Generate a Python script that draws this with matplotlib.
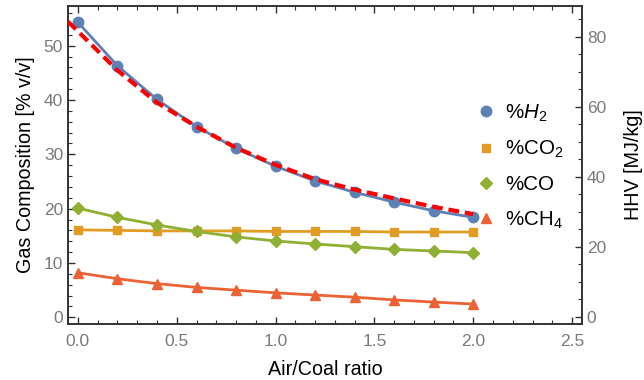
import numpy as np
import matplotlib
matplotlib.use("Agg")
import matplotlib.pyplot as plt
from matplotlib.ticker import MultipleLocator

plt.rcParams["font.family"] = ["Liberation Sans", "DejaVu Sans"]
plt.rcParams["mathtext.fontset"] = "custom"
plt.rcParams["mathtext.it"] = "Liberation Sans:italic"
plt.rcParams["mathtext.rm"] = "Liberation Sans"

# ── data ────────────────────────────────────────────────────────────────
ratio = [0.0, 0.2, 0.4, 0.6, 0.8, 1.0, 1.2, 1.4, 1.6, 1.8, 2.0]
h2  = [54.3, 46.3, 40.1, 35.1, 31.1, 27.8, 25.1, 23.0, 21.2, 19.6, 18.4]
co2 = [16.1, 16.0, 15.9, 15.9, 15.9, 15.8, 15.8, 15.8, 15.7, 15.7, 15.7]
co  = [20.1, 18.4, 17.0, 15.8, 14.8, 14.05, 13.5, 13.0, 12.5, 12.2, 11.9]
ch4 = [8.2, 7.1, 6.2, 5.5, 5.0, 4.5, 4.1, 3.7, 3.2, 2.8, 2.45]

hhv_x = [-0.05, 0.0, 0.2, 0.4, 0.6, 0.8, 1.0, 1.2, 1.4, 1.6, 1.8, 2.0]
hhv   = [84.3, 81.6, 70.4, 61.2, 54.3, 48.3, 43.4, 39.3, 36.3, 33.8, 31.4, 29.3]

C_BLUE, C_ORANGE = "#5E81B5", "#E19C24"
C_GREEN, C_RED = "#8FB032", "#EB6235"
GRAY = "#7a7a7a"

fig = plt.figure(figsize=(6.44, 3.8), dpi=100)
ax = fig.add_axes([0.1056, 0.1474, 0.7981, 0.8368])
ax2 = ax.twinx()

series = [
    (h2,  C_BLUE,   "o", 7.5, "%$H_2$"),
    (co2, C_ORANGE, "s", 6,   "%CO$_2$"),
    (co,  C_GREEN,  "D", 6.5, "%CO"),
    (ch4, C_RED,    "^", 7,   "%CH$_4$"),
]
handles = []
for vals, col, mk, ms, lab in series:
    ax.plot(ratio, vals, color=col, lw=2, zorder=2)
    h, = ax.plot(ratio, vals, ls="none", marker=mk, ms=ms, color=col,
                 label=lab, zorder=3)
    handles.append(h)

ax2.plot(hhv_x, hhv, color="red", lw=3, ls=(0, (2.6, 1.4)), zorder=4)

ax.set_xlim(-0.05, 2.55)
ax.set_ylim(-1.23, 57.3)
ax2.set_ylim(-2.1, 88.8)

ax.xaxis.set_major_locator(MultipleLocator(0.5))
ax.xaxis.set_minor_locator(MultipleLocator(0.1))
ax.yaxis.set_major_locator(MultipleLocator(10))
ax.yaxis.set_minor_locator(MultipleLocator(2))
ax2.yaxis.set_major_locator(MultipleLocator(20))
ax2.yaxis.set_minor_locator(MultipleLocator(5))
ax.xaxis.set_major_formatter(matplotlib.ticker.FormatStrFormatter("%.1f"))

for a in (ax, ax2):
    a.tick_params(which="both", direction="in", colors="#333333",
                  labelcolor=GRAY, labelsize=12.5)
    a.tick_params(which="major", length=5, width=1)
    a.tick_params(which="minor", length=3, width=0.8)
    for s in a.spines.values():
        s.set_color("#333333")
        s.set_linewidth(1.2)
ax.tick_params(axis="x", which="both", top=True, pad=7)
ax.tick_params(axis="y", which="both", right=False)

ax.set_xlabel("Air/Coal ratio", fontsize=14.2, labelpad=8)
ax.set_ylabel("Gas Composition [% v/v]", fontsize=14.2, labelpad=6)
ax2.set_ylabel("HHV [MJ/kg]", fontsize=14.2, labelpad=13)

ax2.legend(handles=handles, loc="upper left", bbox_to_anchor=(0.793, 0.697),
           frameon=False, fontsize=14.8, handletextpad=0.45, borderpad=0,
           borderaxespad=0, labelspacing=0.74, handlelength=1.0)

fig.savefig("out.png", dpi=100)
